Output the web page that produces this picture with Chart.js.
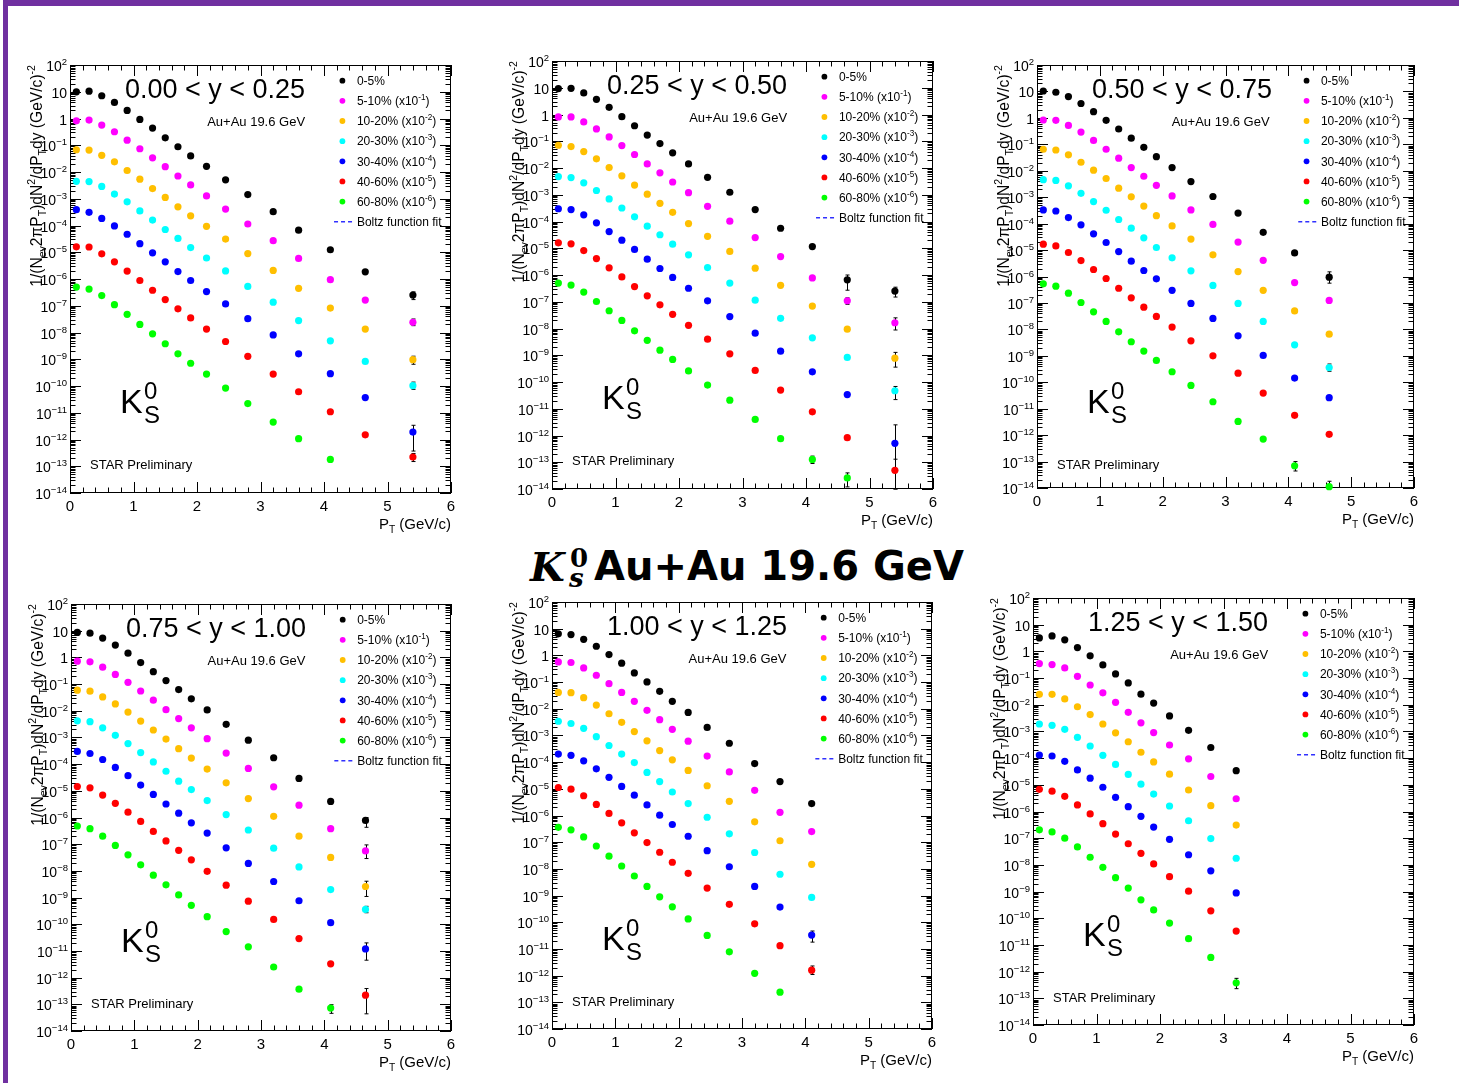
<!DOCTYPE html>
<html>
<head>
<meta charset="utf-8">
<title>K0s spectra, Au+Au 19.6 GeV</title>
<script src="https://cdn.jsdelivr.net/npm/chart.js@4.4.1/dist/chart.umd.min.js"></script>
<style>
  html, body { margin: 0; padding: 0; background: #fff; }
  body { position: relative; width: 1459px; height: 1083px; overflow: hidden; }
  .bar { position: absolute; background: #7030a0; }
  canvas { position: absolute; }
  #headline { position: absolute; left: 530px; top: 543px; width: 440px; height: 50px; }
  #headline span { position: absolute; line-height: 1; white-space: nowrap; color: #000; }
</style>
</head>
<body>
<div class="bar" style="left:3px;top:0;width:1456px;height:6px"></div>
<div class="bar" style="left:3px;top:0;width:5px;height:1083px"></div>
<div id="headline">
  <span style="left:0;top:0;font:italic bold 40px 'DejaVu Serif'">K</span>
  <span style="left:40px;top:0;font:bold 26px 'DejaVu Serif'">0</span>
  <span style="left:39px;top:20px;font:italic bold 26px 'DejaVu Serif'">s</span>
  <span style="left:64px;top:0;font:bold 40px 'DejaVu Sans'">Au+Au 19.6 GeV</span>
</div>
<script>
// pT bin centres (GeV/c), shared by all rapidity slices
const ptBins = [0.1, 0.3, 0.5, 0.7, 0.9, 1.1, 1.3, 1.5, 1.7, 1.9, 2.15, 2.45, 2.8, 3.2, 3.6, 4.1, 4.65, 5.4];
const centralityBins = ["0-5%", "5-10%", "10-20%", "20-30%", "30-40%", "40-60%", "60-80%"];
const markerColors = ["#000000", "#ff00ff", "#ffbf00", "#00ffff", "#0000ff", "#ff0000", "#00ff00"];
const rapidityBins = ["0.00 < y < 0.25", "0.25 < y < 0.50", "0.50 < y < 0.75",
                      "0.75 < y < 1.00", "1.00 < y < 1.25", "1.25 < y < 1.50"];

// yields as plotted (already scaled by x10^-k per centrality), one row per centrality
const spectra_y000_025 = [
    [9.9, 10.5, 7.1, 4.0, 2.0, 0.92, 0.44, 0.19, 0.088, 0.040, 0.0163, 0.0051, 0.00143, 3.3e-4, 6.7e-5, 1.24e-5, 1.85e-6, 2.5e-7],
    [0.82, 0.87, 0.57, 0.32, 0.155, 0.074, 0.034, 0.0158, 0.0071, 0.0033, 0.00127, 4.1e-4, 1.14e-4, 2.7e-5, 5.9e-6, 9.4e-7, 1.63e-7, 2.4e-8],
    [0.068, 0.066, 0.042, 0.024, 0.0114, 0.0054, 0.0024, 0.00112, 5.0e-4, 2.3e-4, 9.3e-5, 3.1e-5, 8.9e-6, 2.1e-6, 4.5e-7, 8.2e-8, 1.34e-8, 9.6e-10],
    [0.0045, 0.0044, 0.0029, 0.0015, 7.7e-4, 3.5e-4, 1.6e-4, 7.1e-5, 3.3e-5, 1.5e-5, 6.1e-6, 2.0e-6, 5.3e-7, 1.36e-7, 2.8e-8, 4.9e-9, 8.3e-10, 1.03e-10],
    [3.9e-4, 3.1e-4, 1.84e-4, 9.6e-5, 4.7e-5, 2.1e-5, 9.5e-6, 4.4e-6, 1.9e-6, 8.8e-7, 3.4e-7, 1.17e-7, 3.3e-8, 8.1e-9, 1.6e-9, 2.9e-10, 3.7e-11, 1.9e-12],
    [1.6e-5, 1.57e-5, 8.7e-6, 4.4e-6, 1.97e-6, 8.8e-7, 3.8e-7, 1.7e-7, 7.7e-8, 3.5e-8, 1.34e-8, 4.6e-9, 1.29e-9, 2.8e-10, 6.1e-11, 1.09e-11, 1.5e-12, 2.2e-13],
    [5.0e-7, 4.2e-7, 2.4e-7, 1.1e-7, 4.8e-8, 2.0e-8, 8.9e-9, 3.8e-9, 1.6e-9, 7.1e-10, 2.8e-10, 8.4e-11, 2.2e-11, 4.5e-12, 1.07e-12, 1.8e-13]
];
const spectra_y025_050 = [
    [9.3, 9.5, 6.4, 3.7, 1.86, 0.83, 0.38, 0.17, 0.082, 0.037, 0.0142, 0.0045, 0.00124, 2.8e-4, 5.6e-5, 1.16e-5, 6.6e-7, 2.5e-7],
    [0.81, 0.81, 0.53, 0.29, 0.145, 0.069, 0.032, 0.0142, 0.0066, 0.0030, 0.0012, 3.7e-4, 1.03e-4, 2.5e-5, 4.9e-6, 7.8e-7, 1.08e-7, 1.64e-8],
    [0.071, 0.063, 0.041, 0.022, 0.0104, 0.0051, 0.0023, 0.00105, 4.8e-4, 2.2e-4, 8.4e-5, 2.8e-5, 7.6e-6, 1.8e-6, 4.1e-7, 6.9e-8, 9.4e-9, 7.8e-10],
    [0.0048, 0.0044, 0.0028, 0.00144, 7.0e-4, 3.2e-4, 1.5e-4, 6.7e-5, 3.2e-5, 1.42e-5, 5.7e-6, 1.9e-6, 5.0e-7, 1.15e-7, 2.4e-8, 4.5e-9, 8.3e-10, 4.7e-11],
    [3.0e-4, 2.8e-4, 1.77e-4, 8.9e-5, 4.2e-5, 2.0e-5, 9.0e-6, 3.9e-6, 1.75e-6, 8.1e-7, 3.2e-7, 1.08e-7, 2.8e-8, 6.7e-9, 1.42e-9, 2.4e-10, 3.4e-11, 5.1e-13],
    [1.6e-5, 1.46e-5, 8.2e-6, 4.1e-6, 1.85e-6, 8.5e-7, 3.7e-7, 1.67e-7, 7.7e-8, 3.4e-8, 1.31e-8, 4.0e-9, 1.13e-9, 2.7e-10, 5.0e-11, 7.7e-12, 8.3e-13, 5.0e-14],
    [5.0e-7, 4.2e-7, 2.3e-7, 1.02e-7, 4.6e-8, 2.0e-8, 8.2e-9, 3.6e-9, 1.55e-9, 7.0e-10, 2.6e-10, 7.7e-11, 2.1e-11, 4.0e-12, 7.6e-13, 1.28e-13, 2.6e-14]
];
const spectra_y050_075 = [
    [10.4, 9.3, 6.4, 3.5, 1.72, 0.81, 0.38, 0.17, 0.077, 0.034, 0.0132, 0.0039, 0.00106, 2.5e-4, 4.7e-5, 7.8e-6, 9.4e-7],
    [0.83, 0.81, 0.52, 0.29, 0.14, 0.065, 0.030, 0.0132, 0.0062, 0.0028, 0.00112, 3.3e-4, 9.3e-5, 2.0e-5, 4.1e-6, 5.9e-7, 1.24e-7],
    [0.065, 0.061, 0.040, 0.021, 0.0105, 0.0051, 0.0022, 0.00103, 4.6e-4, 2.0e-4, 8.2e-5, 2.6e-5, 6.6e-6, 1.54e-6, 3.0e-7, 5.0e-8, 6.6e-9],
    [0.0046, 0.0043, 0.0027, 0.0014, 6.8e-4, 3.2e-4, 1.43e-4, 6.7e-5, 2.9e-5, 1.25e-5, 5.1e-6, 1.64e-6, 4.6e-7, 9.6e-8, 2.0e-8, 2.6e-9, 3.6e-10],
    [3.3e-4, 3.0e-4, 1.7e-4, 9.0e-5, 4.1e-5, 1.93e-5, 8.8e-6, 3.8e-6, 1.69e-6, 8.2e-7, 3.0e-7, 9.6e-8, 2.6e-8, 5.7e-9, 1.03e-9, 1.44e-10, 2.6e-11],
    [1.67e-5, 1.44e-5, 8.1e-6, 4.0e-6, 1.84e-6, 8.4e-7, 3.6e-7, 1.56e-7, 6.9e-8, 3.1e-8, 1.22e-8, 3.7e-9, 1.0e-9, 2.2e-10, 3.9e-11, 5.6e-12, 1.07e-12],
    [5.3e-7, 4.3e-7, 2.35e-7, 1.04e-7, 4.6e-8, 2.0e-8, 8.1e-9, 3.4e-9, 1.51e-9, 6.7e-10, 2.5e-10, 7.6e-11, 1.83e-11, 3.3e-12, 7.1e-13, 6.9e-14, 1.12e-14]
];
const spectra_y075_100 = [
    [8.6, 8.1, 5.3, 2.9, 1.44, 0.64, 0.29, 0.135, 0.062, 0.028, 0.0107, 0.0031, 7.9e-4, 1.73e-4, 2.9e-5, 4.0e-6, 7.8e-7],
    [0.72, 0.68, 0.43, 0.23, 0.116, 0.055, 0.025, 0.011, 0.0051, 0.0023, 9.0e-4, 2.6e-4, 6.9e-5, 1.41e-5, 2.9e-6, 3.8e-7, 5.6e-8],
    [0.059, 0.054, 0.033, 0.018, 0.0089, 0.0041, 0.0019, 8.7e-4, 3.8e-4, 1.68e-4, 6.5e-5, 2.0e-5, 5.1e-6, 1.11e-6, 2.0e-7, 3.2e-8, 2.6e-9],
    [0.0042, 0.0039, 0.0023, 0.0012, 5.9e-4, 2.7e-4, 1.21e-4, 5.4e-5, 2.3e-5, 1.11e-5, 4.3e-6, 1.29e-6, 3.4e-7, 7.1e-8, 1.41e-8, 2.0e-9, 3.6e-10],
    [3.0e-4, 2.5e-4, 1.49e-4, 7.5e-5, 3.7e-5, 1.64e-5, 7.3e-6, 3.2e-6, 1.45e-6, 6.3e-7, 2.6e-7, 7.3e-8, 1.9e-8, 4.0e-9, 7.6e-10, 1.15e-10, 1.19e-11],
    [1.45e-5, 1.29e-5, 6.9e-6, 3.4e-6, 1.59e-6, 7.1e-7, 3.0e-7, 1.33e-7, 5.9e-8, 2.6e-8, 9.6e-9, 2.9e-9, 7.3e-10, 1.51e-10, 2.9e-11, 3.3e-12, 2.2e-13],
    [4.8e-7, 3.8e-7, 2.0e-7, 9.0e-8, 4.0e-8, 1.69e-8, 6.9e-9, 3.0e-9, 1.26e-9, 5.1e-10, 1.92e-10, 5.3e-11, 1.42e-11, 2.5e-12, 3.7e-13, 7.2e-14]
];
const spectra_y100_125 = [
    [6.4, 6.0, 4.0, 2.2, 1.07, 0.51, 0.22, 0.101, 0.045, 0.019, 0.0073, 0.0020, 5.1e-4, 8.8e-5, 1.87e-5, 2.8e-6],
    [0.57, 0.54, 0.34, 0.18, 0.087, 0.041, 0.019, 0.0087, 0.0039, 0.0017, 6.1e-4, 1.69e-4, 4.3e-5, 8.8e-6, 1.31e-6, 2.5e-7],
    [0.041, 0.040, 0.026, 0.0137, 0.0065, 0.0031, 0.0014, 6.3e-4, 2.7e-4, 1.22e-4, 4.9e-5, 1.3e-5, 3.4e-6, 5.8e-7, 1.13e-7, 1.48e-8],
    [0.0034, 0.0028, 0.00185, 9.0e-4, 4.2e-4, 2.0e-4, 9.6e-5, 4.1e-5, 1.87e-5, 7.6e-6, 2.8e-6, 8.6e-7, 2.05e-7, 4.1e-8, 6.3e-9, 8.5e-10],
    [2.0e-4, 1.8e-4, 1.12e-4, 5.6e-5, 2.7e-5, 1.23e-5, 5.8e-6, 2.5e-6, 1.03e-6, 4.6e-7, 1.67e-7, 4.8e-8, 1.2e-8, 2.2e-9, 3.7e-10, 3.3e-11],
    [1.12e-5, 9.7e-6, 5.5e-6, 2.6e-6, 1.2e-6, 5.3e-7, 2.25e-7, 9.7e-8, 4.2e-8, 1.77e-8, 6.8e-9, 1.9e-9, 4.7e-10, 8.7e-11, 1.33e-11, 1.6e-12],
    [3.6e-7, 2.9e-7, 1.57e-7, 7.2e-8, 3.0e-8, 1.28e-8, 5.4e-9, 2.2e-9, 9.0e-10, 3.8e-10, 1.33e-10, 3.2e-11, 7.8e-12, 1.22e-12, 2.4e-13]
];
const spectra_y125_150 = [
    [3.2, 3.8, 2.7, 1.39, 0.68, 0.31, 0.143, 0.066, 0.025, 0.0116, 0.0038, 0.0011, 2.5e-4, 3.4e-5],
    [0.35, 0.32, 0.24, 0.116, 0.055, 0.028, 0.0123, 0.0052, 0.0021, 9.1e-4, 3.1e-4, 9.4e-5, 2.05e-5, 3.0e-6],
    [0.0245, 0.0245, 0.0166, 0.0084, 0.0043, 0.0019, 8.9e-4, 4.1e-4, 1.66e-4, 7.2e-5, 2.5e-5, 6.4e-6, 1.66e-6, 3.1e-7],
    [0.0019, 0.0017, 0.0012, 6.0e-4, 2.85e-4, 1.27e-4, 5.8e-5, 2.45e-5, 1.06e-5, 4.5e-6, 1.61e-6, 4.5e-7, 9.7e-8, 1.77e-8],
    [1.31e-4, 1.2e-4, 7.6e-5, 3.6e-5, 1.77e-5, 8.1e-6, 3.4e-6, 1.52e-6, 6.6e-7, 2.6e-7, 9.1e-8, 2.4e-8, 6.0e-9, 8.9e-10],
    [6.8e-6, 5.8e-6, 3.7e-6, 1.77e-6, 8.1e-7, 3.5e-7, 1.43e-7, 6.2e-8, 2.7e-8, 1.09e-8, 3.6e-9, 1.03e-9, 1.9e-10, 3.3e-11],
    [2.05e-7, 1.71e-7, 1.0e-7, 4.7e-8, 1.93e-8, 8.1e-9, 3.3e-9, 1.35e-9, 4.9e-10, 2.05e-10, 6.6e-11, 1.71e-11, 3.4e-12, 3.8e-13]
];

// visible error bars: [centrality, pT bin, low, high]
const errors_y000_025 = [[0, 17, 1.7e-7, 3.3e-7], [1, 17, 1.8e-8, 3.2e-8], [2, 17, 6.5e-10, 1.3e-9],
                         [3, 17, 7.5e-11, 1.4e-10], [4, 17, 3.7e-13, 3.4e-12], [5, 17, 1.5e-13, 3.0e-13]];
const errors_y025_050 = [[0, 16, 2.7e-7, 1.0e-6], [0, 17, 1.5e-7, 3.5e-7], [1, 16, 8e-8, 1.4e-7],
                         [1, 17, 8.8e-9, 2.5e-8], [2, 17, 3.6e-10, 1.28e-9], [3, 17, 2.2e-11, 6.8e-11],
                         [4, 17, 5e-15, 2.5e-12], [5, 17, 5e-15, 1.3e-13], [6, 15, 9e-14, 1.7e-13], [6, 16, 1.2e-14, 4e-14]];
const errors_y050_075 = [[0, 16, 5.6e-7, 1.5e-6], [3, 16, 2.6e-10, 4.9e-10], [6, 15, 4.4e-14, 1.0e-13], [6, 16, 7e-15, 1.8e-14]];
const errors_y075_100 = [[0, 16, 4.3e-7, 1.0e-6], [1, 16, 2.9e-8, 9.4e-8], [2, 16, 1.1e-9, 4.1e-9], [3, 16, 2.7e-10, 4.7e-10],
                         [4, 16, 4.5e-12, 2.0e-11], [5, 16, 4.4e-14, 3.9e-13], [6, 15, 4.6e-14, 9.7e-14]];
const errors_y100_125 = [[4, 15, 1.8e-11, 4.7e-11], [5, 15, 1.1e-12, 2.3e-12]];
const errors_y125_150 = [[6, 13, 2.3e-13, 5.6e-13]];

const panelSpectra = [spectra_y000_025, spectra_y025_050, spectra_y050_075, spectra_y075_100, spectra_y100_125, spectra_y125_150];
const panelErrors = [errors_y000_025, errors_y025_050, errors_y050_075, errors_y075_100, errors_y100_125, errors_y125_150];

// frame rectangles of the six pads on the page
const padFrames = [
    { left: 70,   top: 65,  width: 381, height: 428 },
    { left: 552,  top: 61,  width: 381, height: 428 },
    { left: 1037, top: 65,  width: 377, height: 423 },
    { left: 71,   top: 604, width: 380, height: 427 },
    { left: 552,  top: 602, width: 380, height: 427 },
    { left: 1033, top: 598, width: 381, height: 427 }
];
const PAD = { left: 70, top: 12, right: 10, bottom: 45 };
const FONT = '"Liberation Sans", Arial, Helvetica, sans-serif';

// draws text with sub/superscript runs; parts are strings or [text, +1 sup / -1 sub]
function drawRich(ctx, parts, x, y, size, align) {
    const runs = parts.map(p => {
        const [text, mode] = Array.isArray(p) ? p : [p, 0];
        const fs = mode ? size * 0.68 : size;
        ctx.font = fs + "px " + FONT;
        return { text, mode, fs, w: ctx.measureText(text).width };
    });
    const total = runs.reduce((s, r) => s + r.w, 0);
    let cx = align === "right" ? x - total : align === "center" ? x - total / 2 : x;
    ctx.textAlign = "left";
    ctx.textBaseline = "alphabetic";
    runs.forEach(r => {
        ctx.font = r.fs + "px " + FONT;
        const dy = r.mode > 0 ? -size * 0.42 : r.mode < 0 ? size * 0.26 : 0;
        ctx.fillText(r.text, cx, y + dy);
        cx += r.w;
    });
    return total;
}

function makePadPlugin(idx) {
    return {
        id: "rootPad" + idx,
        beforeDatasetsDraw(chart) {
            const { ctx, chartArea: a, scales: { x, y } } = chart;
            const L = a.left, R = a.right, T = a.top, B = a.bottom;
            ctx.save();
            ctx.strokeStyle = "#000";
            ctx.lineWidth = 1;
            ctx.strokeRect(L + 0.5, T + 0.5, R - L - 1, B - T - 1);

            ctx.beginPath();
            // x ticks: majors every 1, minors every 0.2, bottom and top
            for (let k = 0; k <= 30; k++) {
                const px = Math.round(x.getPixelForValue(k / 5)) + 0.5;
                const len = k % 5 === 0 ? 11 : 5.5;
                ctx.moveTo(px, B); ctx.lineTo(px, B - len);
                ctx.moveTo(px, T); ctx.lineTo(px, T + len);
            }
            // y ticks: decades and 2..9 subdivisions, left and right
            for (let d = -14; d <= 2; d++) {
                const py = Math.round(y.getPixelForValue(Math.pow(10, d))) + 0.5;
                ctx.moveTo(L, py); ctx.lineTo(L + 11, py);
                ctx.moveTo(R, py); ctx.lineTo(R - 11, py);
                if (d === 2) continue;
                for (let m = 2; m <= 9; m++) {
                    const qy = Math.round(y.getPixelForValue(m * Math.pow(10, d))) + 0.5;
                    ctx.moveTo(L, qy); ctx.lineTo(L + 5.5, qy);
                    ctx.moveTo(R, qy); ctx.lineTo(R - 5.5, qy);
                }
            }
            ctx.stroke();

            // error bars
            ctx.beginPath();
            panelErrors[idx].forEach(([c, i, lo, hi]) => {
                const px = Math.round(x.getPixelForValue(ptBins[i])) + 0.5;
                const yLo = Math.min(y.getPixelForValue(lo), B);
                const yHi = Math.max(y.getPixelForValue(hi), T);
                ctx.moveTo(px, yLo); ctx.lineTo(px, yHi);
                ctx.moveTo(px - 2, yLo); ctx.lineTo(px + 2, yLo);
                ctx.moveTo(px - 2, yHi); ctx.lineTo(px + 2, yHi);
            });
            ctx.stroke();

            // tick labels
            ctx.fillStyle = "#000";
            for (let k = 0; k <= 6; k++) {
                ctx.font = "15px " + FONT;
                ctx.textAlign = "center";
                ctx.textBaseline = "alphabetic";
                ctx.fillText(String(k), x.getPixelForValue(k), B + 18);
            }
            for (let d = -14; d <= 2; d++) {
                const py = y.getPixelForValue(Math.pow(10, d));
                let parts;
                if (d === 0) parts = ["1"];
                else if (d === 1) parts = ["10"];
                else parts = ["10", [(d < 0 ? "\u2212" : "") + Math.abs(d), 1]];
                drawRich(ctx, parts, L - 3, py + 6, 14, "right");
            }

            // axis titles
            drawRich(ctx, ["P", ["T", -1], " (GeV/c)"], R, B + 36, 15, "right");
            ctx.save();
            ctx.translate(L - 28, T);
            ctx.rotate(-Math.PI / 2);
            drawRich(ctx, ["1/(N", ["ev", -1], "2\u03c0P", ["T", -1], ")dN", ["2", 1], "/dP", ["T", -1],
                           "dy (GeV/c)", ["-2", 1]], 0, 0, 15.6, "right");
            ctx.restore();
            ctx.restore();
        },
        afterDatasetsDraw(chart) {
            const { ctx, chartArea: a } = chart;
            const L = a.left, T = a.top, W = a.width;
            ctx.save();
            ctx.fillStyle = "#000";
            drawRich(ctx, [rapidityBins[idx]], L + 55, T + 33, 27, "left");
            drawRich(ctx, ["Au+Au 19.6 GeV"], L + 0.617 * W, T + 60.5, 13, "right");
            drawRich(ctx, ["STAR Preliminary"], L + 20, T + 404, 13, "left");
            drawRich(ctx, ["K"], L + 50, T + 348, 34, "left");
            drawRich(ctx, ["0"], L + 74, T + 334, 24, "left");
            drawRich(ctx, ["S"], L + 74, T + 358, 24, "left");

            // legend
            const mx = L + 0.715 * W, tx = L + 0.753 * W;
            centralityBins.forEach((name, c) => {
                const cy = T + 15.7 + 20.15 * c;
                ctx.fillStyle = markerColors[c];
                ctx.beginPath();
                ctx.arc(mx, cy, 2.9, 0, Math.PI * 2);
                ctx.fill();
                ctx.fillStyle = "#000";
                const parts = c === 0 ? [name] : [name + " (x10", ["-" + c, 1], ")"];
                drawRich(ctx, parts, tx, cy + 4.3, 12, "left");
            });
            const by = T + 15.7 + 20.15 * 7;
            ctx.strokeStyle = "#3030ff";
            ctx.lineWidth = 1.5;
            ctx.setLineDash([4, 3]);
            ctx.beginPath();
            ctx.moveTo(L + 0.693 * W, by); ctx.lineTo(L + 0.745 * W, by);
            ctx.stroke();
            ctx.setLineDash([]);
            drawRich(ctx, ["Boltz function fit"], tx, by + 4.3, 12, "left");
            ctx.restore();
        }
    };
}

padFrames.forEach((f, idx) => {
    const canvas = document.createElement("canvas");
    canvas.width = f.width + PAD.left + PAD.right;
    canvas.height = f.height + PAD.top + PAD.bottom;
    canvas.style.left = (f.left - PAD.left) + "px";
    canvas.style.top = (f.top - PAD.top) + "px";
    canvas.style.width = canvas.width + "px";
    canvas.style.height = canvas.height + "px";
    document.body.appendChild(canvas);

    const datasets = panelSpectra[idx].map((vals, c) => ({
        label: centralityBins[c],
        data: vals.map((v, i) => ({ x: ptBins[i], y: v })),
        backgroundColor: markerColors[c],
        borderColor: markerColors[c],
        pointRadius: 3.6,
        pointBorderWidth: 0,
        showLine: false,
        clip: 6
    }));

    new Chart(canvas, {
        type: "scatter",
        data: { datasets: datasets },
        options: {
            responsive: false,
            animation: false,
            events: [],
            layout: { padding: PAD },
            plugins: { legend: { display: false }, tooltip: { enabled: false } },
            scales: {
                x: { type: "linear", min: 0, max: 6, display: false },
                y: { type: "logarithmic", min: 1e-14, max: 100, display: false }
            }
        },
        plugins: [makePadPlugin(idx)]
    });
});
</script>
</body>
</html>
